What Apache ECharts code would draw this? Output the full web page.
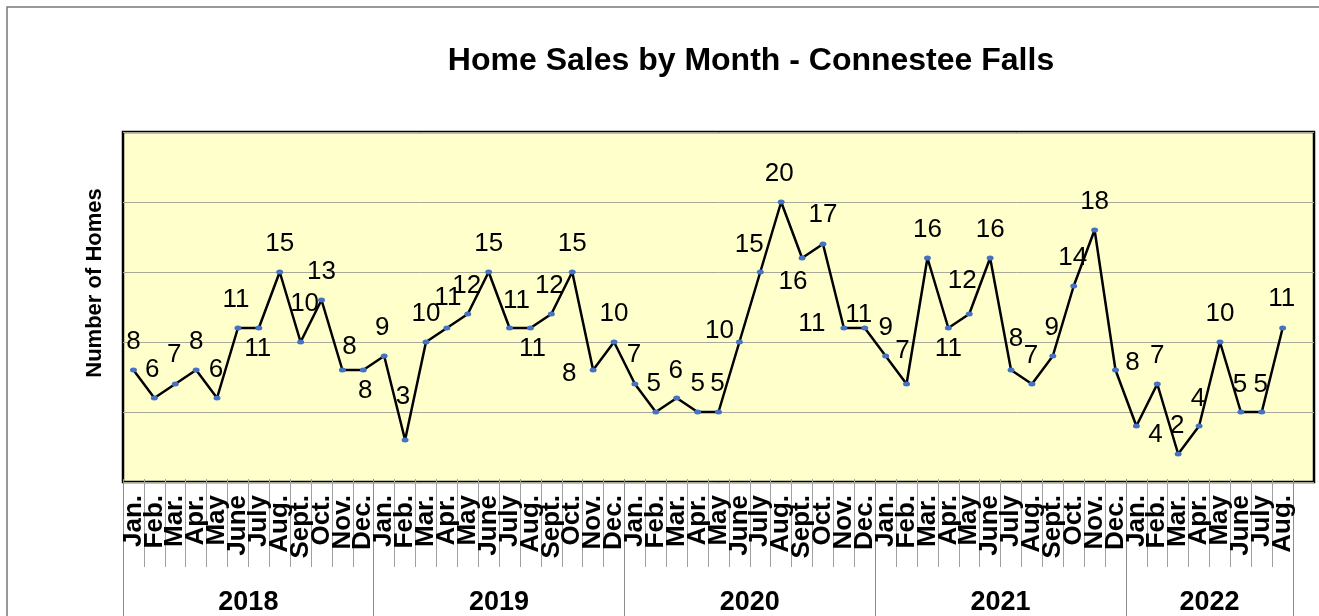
<!DOCTYPE html>
<html><head><meta charset="utf-8">
<script src="https://cdn.jsdelivr.net/npm/echarts@6/dist/echarts.min.js"></script>
<style>html,body{margin:0;padding:0;background:#fff}#c{width:1319px;height:616px}</style>
</head><body><div id="c"></div>
<script>
// ---- data ----
const monthNames = ['Jan.','Feb.','Mar.','Apr.','May','June','July','Aug.','Sept.','Oct.','Nov.','Dec.'];
const years = ['2018','2019','2020','2021','2022'];
const sales2018 = [8,6,7,8,6,11,11,15,10,13,8,8];
const sales2019 = [9,3,10,11,12,15,11,11,12,15,8,10];
const sales2020 = [7,5,6,5,5,10,15,20,16,17,11,11];
const sales2021 = [9,7,16,11,12,16,8,7,9,14,18,8];
const sales2022 = [4,7,2,4,10,5,5,11];
const yMin = 0, yMax = 25, yStep = 5;

// label placement (offset of label centre from its point), style only
const labelOffsets = [
 [0,-28],[-2,-28],[-1,-29],[0,-28],[-1,-28],[-2,-28],[-1,21],[0,-28],[4,-38],[0,-28],[7,-23],[2,21],
 [-2,-28],[-2,-43],[0,-28],[1,-30],[-1,-28],[0,-28],[7,-27],[2,21],[-2,-28],[0,-28],[-24,4],[0,-28],
 [-1,-29],[-2,-28],[-1,-27],[0,-28],[-1,-28],[-20,-11],[-11,-27],[-2,-28],[-9,24],[0,-29],[-32,-4],[-6,-13],
 [0,-28],[-4,-33],[0,-28],[0,21],[-7,-33],[0,-28],[5,-31],[-1,-28],[-1,-28],[-1,-28],[0,-28],[17,-7],
 [19,9],[0,-28],[-1,-28],[-1,-27],[0,-28],[-1,-27],[-1,-27],[-1,-29]
];

// ---- build ----
const yearSeries = [sales2018, sales2019, sales2020, sales2021, sales2022];
const categories = [];
const yearOfIdx = [];
const yearStarts = [];
const yearLabelIdx = [];
const values = [];
yearSeries.forEach((arr, yi) => {
  yearStarts.push(categories.length);
  yearLabelIdx.push(categories.length + Math.floor(arr.length / 2));
  arr.forEach((v, mi) => {
    categories.push(monthNames[mi]);
    yearOfIdx.push(years[yi]);
    values.push(v);
  });
});
const plotCats = categories.concat(['']); // extra empty slot at right end of plot

const FONT = "'Liberation Sans', Arial, sans-serif";
const W = 1319, gridL = 123, gridR = 5, gridT = 132, gridB = 134;
const plotW = W - gridL - gridR;
const band = plotW / plotCats.length;
const axisR = W - gridL - band * categories.length;

const chart = echarts.init(document.getElementById('c'), null, {renderer: 'canvas'});
chart.setOption({
  animation: false,
  backgroundColor: '#ffffff',
  textStyle: {fontFamily: FONT},
  title: {
    text: 'Home Sales by Month - Connestee Falls',
    left: 751, top: 45, textAlign: 'center', padding: 0,
    textStyle: {fontSize: 32, fontWeight: 'bold', color: '#000', fontFamily: FONT}
  },
  graphic: [
    {type: 'rect', z: -1, shape: {x: 7, y: 7, width: 1400, height: 700},
     style: {fill: 'none', stroke: '#777', lineWidth: 1.5}},
    {type: 'text', x: 95, y: 283, rotation: Math.PI / 2,
     style: {text: 'Number of Homes', fontSize: 22, fontWeight: 'bold', fill: '#000',
             fontFamily: FONT, align: 'center', verticalAlign: 'middle'}}
  ],
  grid: [
    {left: gridL, right: gridR, top: gridT, bottom: gridB, show: true,
     backgroundColor: '#FFFFCC', borderColor: '#000', borderWidth: 2.5},
    {left: gridL, right: axisR, top: gridT, bottom: gridB, show: false}
  ],
  xAxis: [
    {gridIndex: 0, type: 'category', data: plotCats, boundaryGap: true,
     axisLine: {show: false}, axisTick: {show: false}, axisLabel: {show: false}, splitLine: {show: false}},
    {gridIndex: 1, type: 'category', data: categories, boundaryGap: true, position: 'bottom',
     axisLine: {show: false},
     axisTick: {show: true, interval: 0, length: 88, lineStyle: {color: '#a0a0a0', width: 1}},
     axisLabel: {interval: 0, rotate: 90, margin: 16, fontSize: 26, fontWeight: 'bold', color: '#000', fontFamily: FONT}},
    {gridIndex: 1, type: 'category', data: categories, boundaryGap: true, position: 'bottom',
     axisLine: {show: false},
     axisTick: {show: true, interval: (i) => yearStarts.indexOf(i) >= 0, length: 140,
                lineStyle: {color: '#8c8c8c', width: 1}},
     axisLabel: {interval: (i) => yearLabelIdx.indexOf(i) >= 0,
                 formatter: (v, i) => yearOfIdx[i],
                 margin: 110, fontSize: 27, fontWeight: 'bold', color: '#000', fontFamily: FONT,
                 padding: [0, band, 0, 0]}}
  ],
  yAxis: [
    {gridIndex: 0, type: 'value', min: yMin, max: yMax, interval: yStep,
     axisLine: {show: false}, axisTick: {show: false}, axisLabel: {show: false},
     splitLine: {show: true, lineStyle: {color: '#a8a898', width: 1}}},
    {gridIndex: 1, type: 'value', min: yMin, max: yMax, interval: yStep, show: false}
  ],
  series: [{
    type: 'line', xAxisIndex: 0, yAxisIndex: 0,
    data: values.map((v, i) => ({value: v, label: {offset: labelOffsets[i]}})),
    symbol: 'circle', symbolSize: [7, 5],
    itemStyle: {color: '#4472C4'},
    lineStyle: {color: '#000', width: 2.5},
    label: {show: true, position: 'inside', fontSize: 26, color: '#000', fontFamily: FONT},
    emphasis: {disabled: true}
  }]
});
</script></body></html>
